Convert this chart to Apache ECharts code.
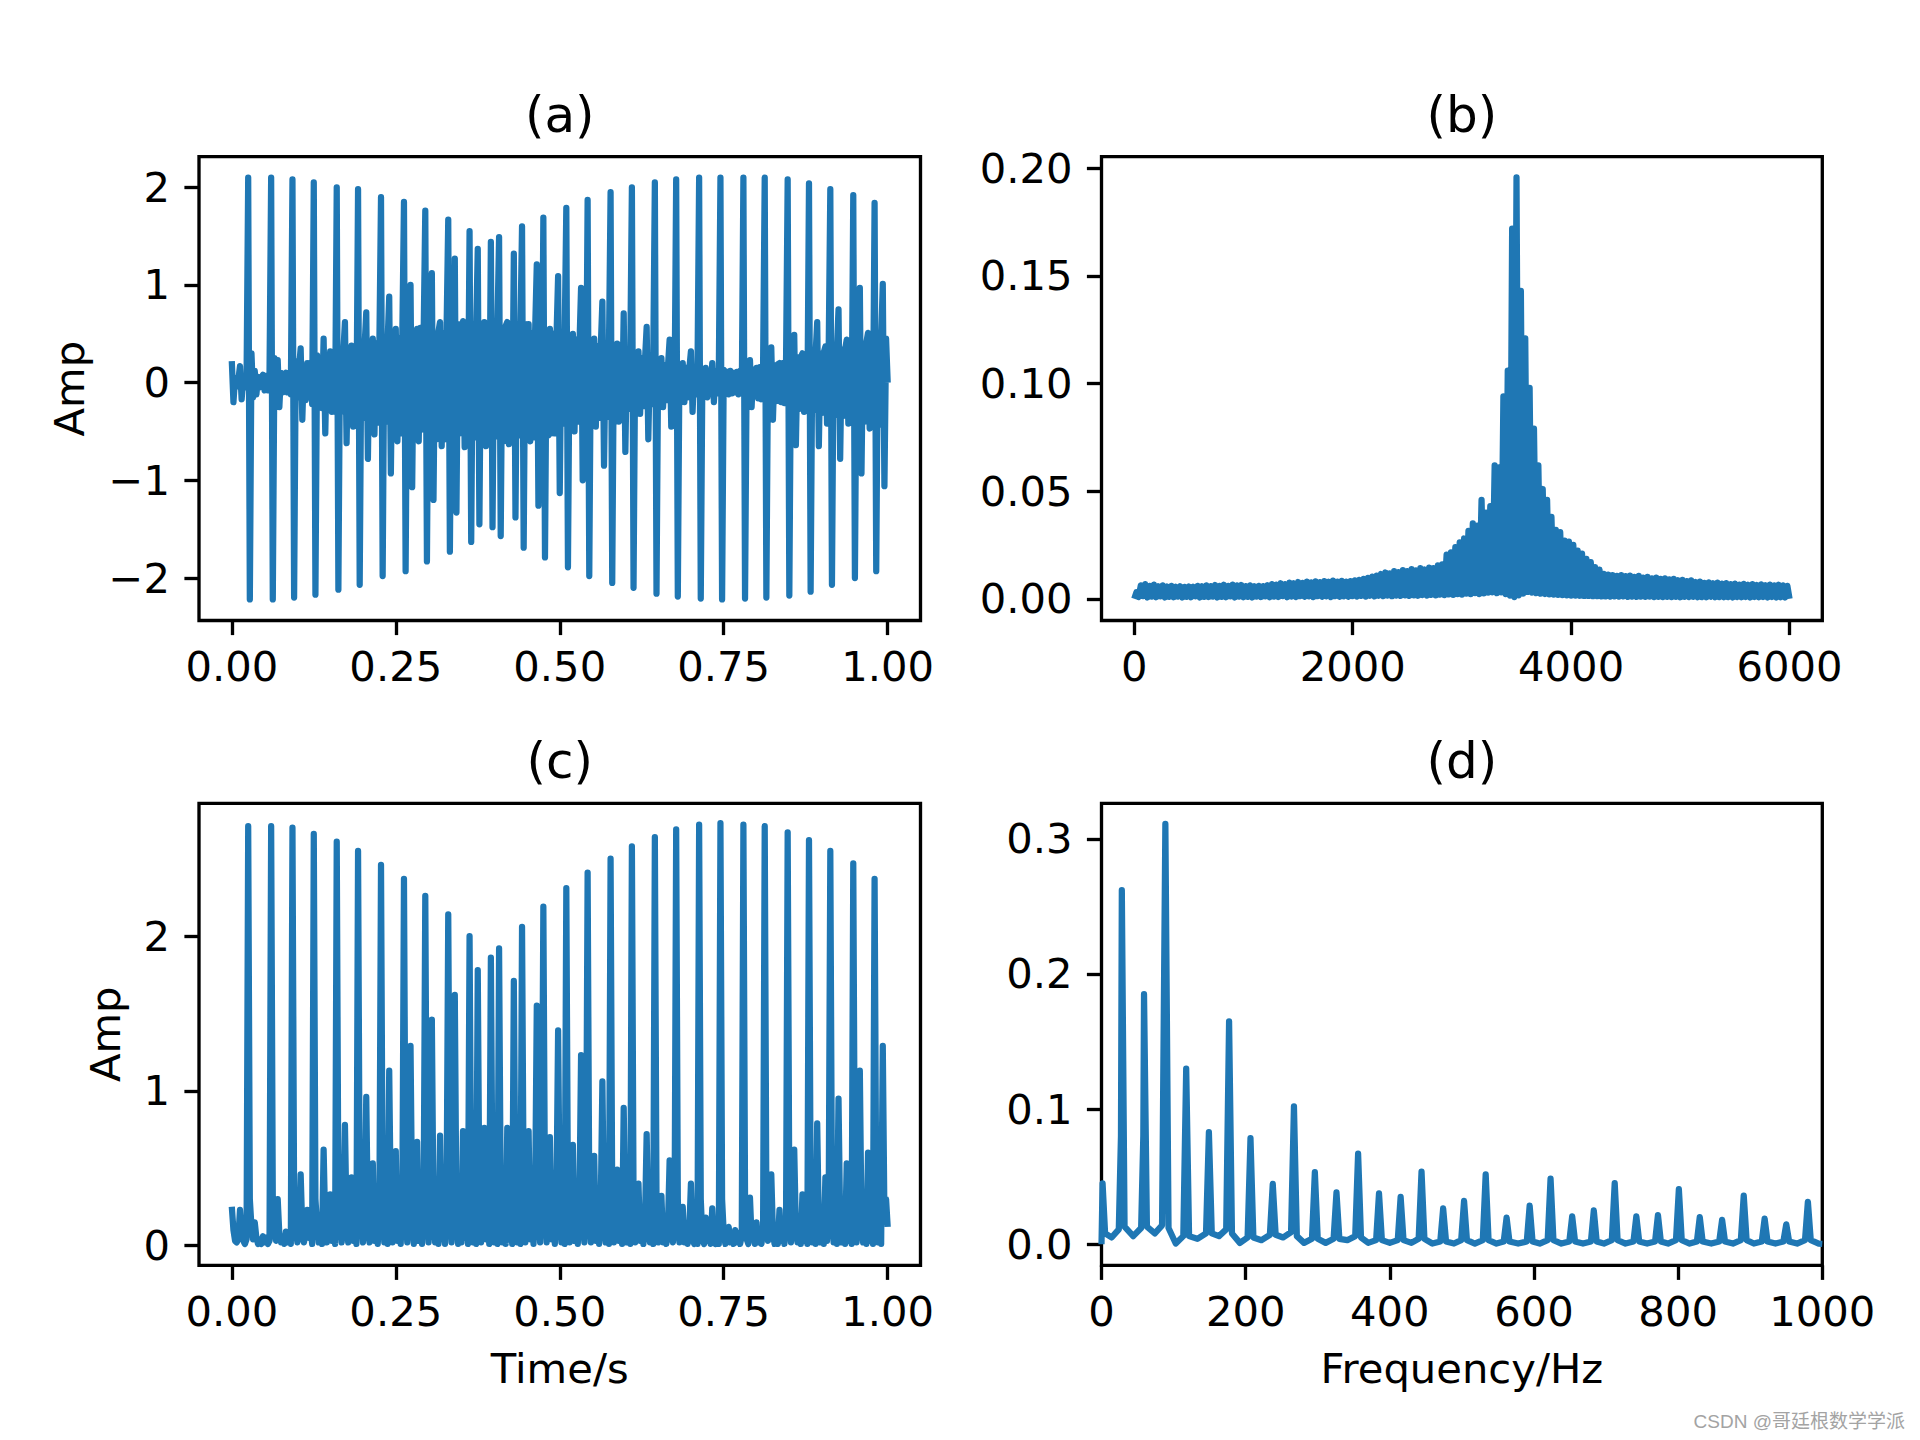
<!DOCTYPE html>
<html><head><meta charset="utf-8">
<script src="https://cdn.jsdelivr.net/npm/echarts@6/dist/echarts.min.js"></script>
<style>html,body{margin:0;padding:0;background:#fff}#c{width:1920px;height:1440px}</style>
</head><body><div id="c"></div>
<script>
// ---------- DATA ----------
// (a) time signal, sampled every timeStep seconds from t = 0 to 1
const timeStep = 0.0025;
const ampA = [
0.22,-0.2,0.05,-0.04,0.03,0.17,-0.17,0.05,-0.05,0.04,2.1,-2.22,0.3,-0.15,0.12,-0.12,0.06,-0.05,0.05,0.08,
-0.08,0.07,-0.08,0.09,2.1,-2.22,0.25,-0.12,0.23,-0.25,0.1,-0.1,0.08,0.1,-0.1,0.1,-0.12,2.08,-2.2,0.22,
-0.15,0.16,0.35,-0.38,0.17,-0.18,0.2,-0.15,0.2,-0.22,2.05,-2.17,0.28,-0.25,0.24,-0.26,0.45,-0.52,0.27,-0.28,
0.32,-0.3,0.29,-0.3,2.0,-2.12,0.33,-0.3,0.31,0.62,-0.62,0.32,-0.33,0.38,-0.45,0.33,-0.34,1.98,-2.07,0.35,
-0.36,0.38,0.72,-0.78,0.4,-0.38,0.45,-0.53,0.4,-0.41,0.39,1.9,-1.98,0.42,-0.4,0.41,0.88,-0.93,0.43,-0.42,
0.55,-0.6,0.45,-0.52,0.5,1.85,-1.93,0.44,-0.55,1.0,-1.07,0.53,-0.46,0.55,-0.6,0.56,-0.48,0.5,1.76,-1.83,
0.56,-0.5,1.12,-1.2,0.48,-0.58,0.52,0.62,-0.65,0.5,-0.58,0.57,1.67,-1.73,0.5,-0.57,1.27,-1.33,0.6,-0.52,
0.52,0.63,-0.66,0.58,-0.52,1.55,-1.63,0.6,-0.56,0.52,1.37,-1.45,0.58,-0.6,0.62,-0.65,0.55,-0.6,1.44,-1.48,
0.6,-0.55,0.58,1.49,-1.57,0.52,-0.6,0.58,0.62,-0.63,0.54,-0.58,1.32,-1.38,0.6,-0.54,0.52,1.6,-1.69,0.6,
-0.55,0.6,-0.6,0.5,-0.56,0.54,1.21,-1.26,0.56,-0.48,1.69,-1.79,0.52,-0.54,0.55,-0.52,0.5,-0.52,0.46,1.09,
-1.13,0.48,-0.42,0.46,1.79,-1.89,0.4,-0.46,0.5,-0.5,0.44,-0.4,0.38,0.97,-1.0,0.43,-0.42,1.87,-1.98,0.42,
-0.4,0.45,-0.45,0.37,-0.36,0.36,0.83,-0.85,0.35,-0.35,0.34,1.95,-2.05,0.34,-0.33,0.4,-0.4,0.32,-0.32,0.71,
-0.71,0.28,-0.27,0.27,2.0,-2.1,0.26,-0.25,0.32,-0.32,0.25,-0.24,0.24,0.57,-0.58,0.23,-0.22,0.22,2.05,-2.16,
0.2,-0.19,0.25,-0.25,0.18,-0.18,0.17,0.44,-0.45,0.17,-0.16,2.08,-2.19,0.18,-0.16,0.2,-0.2,0.15,-0.15,0.14,
0.32,-0.3,0.13,-0.12,0.12,2.1,-2.21,0.14,-0.12,0.15,-0.15,0.12,-0.11,0.2,-0.2,0.11,-0.11,0.11,2.1,-2.22,
0.13,-0.12,0.11,-0.12,0.12,-0.11,0.1,-0.1,0.11,-0.12,0.12,-0.11,2.1,-2.21,0.15,-0.12,0.23,-0.25,0.13,-0.13,
0.15,-0.16,0.16,-0.17,0.17,2.1,-2.2,0.18,-0.17,0.36,-0.38,0.18,-0.19,0.19,0.2,-0.2,0.2,-0.21,0.21,2.08,
-2.18,0.25,-0.24,0.49,-0.64,0.26,-0.27,0.26,0.3,-0.3,0.27,-0.28,2.04,-2.14,0.28,-0.28,0.29,0.62,-0.65,0.3,
-0.31,0.31,0.37,-0.42,0.32,1.98,-2.07,0.33,-0.33,0.33,0.75,-0.78,0.34,-0.34,0.34,0.44,-0.42,0.35,-0.35,1.92,
-2.0,0.38,-0.38,0.97,-0.93,0.4,-0.4,0.41,0.51,-0.47,0.42,-0.42,1.84,-1.93,0.43,-0.43,0.44,1.01,-1.06,0.45,0.0
];

// (c) time signal (non-negative), same sampling
const ampC = [
0.25,0.1,0.03,0.02,0.05,0.23,0.08,0.03,0.01,0.04,2.71,0.3,0.12,0.04,0.15,0.05,0.01,0.04,0.01,0.06,
0.02,0.05,0.01,0.03,2.71,0.3,0.1,0.03,0.3,0.07,0.02,0.06,0.01,0.09,0.02,0.06,0.01,2.7,0.3,0.1,
0.02,0.07,0.46,0.1,0.02,0.08,0.23,0.05,0.12,0.01,2.66,0.3,0.13,0.02,0.12,0.01,0.62,0.12,0.02,0.13,
0.33,0.03,0.14,0.01,2.61,0.3,0.14,0.02,0.15,0.78,0.15,0.02,0.16,0.44,0.03,0.17,0.01,2.55,0.3,0.16,
0.02,0.18,0.96,0.15,0.02,0.2,0.53,0.03,0.22,0.01,0.22,2.46,0.3,0.02,0.24,0.01,1.13,0.2,0.02,0.25,
0.61,0.03,0.26,0.01,0.27,2.37,0.3,0.02,0.28,1.29,0.2,0.01,0.29,0.67,0.03,0.3,0.01,0.3,2.26,0.3,
0.02,0.32,1.46,0.2,0.02,0.33,0.01,0.71,0.04,0.34,0.01,0.34,2.14,0.3,0.02,0.35,1.62,0.2,0.01,0.35,
0.02,0.74,0.05,0.36,0.01,2.0,0.3,0.02,0.36,0.01,1.78,0.25,0.02,0.36,0.76,0.04,0.36,0.01,1.86,0.28,
0.02,0.37,0.01,1.92,0.3,0.02,0.36,0.01,0.76,0.04,0.36,0.01,1.71,0.25,0.02,0.36,0.01,2.06,0.3,0.02,
0.35,0.74,0.04,0.35,0.01,0.35,1.55,0.22,0.02,0.34,2.19,0.3,0.02,0.34,0.7,0.04,0.33,0.01,0.33,1.39,
0.2,0.02,0.32,0.01,2.31,0.3,0.02,0.3,0.65,0.03,0.29,0.01,0.28,1.23,0.18,0.02,0.27,2.41,0.3,0.02,
0.26,0.58,0.03,0.26,0.01,0.25,1.06,0.15,0.02,0.24,0.01,2.5,0.3,0.02,0.23,0.49,0.03,0.22,0.01,0.89,
0.13,0.02,0.2,0.01,2.58,0.3,0.02,0.19,0.4,0.03,0.18,0.01,0.17,0.72,0.1,0.02,0.16,0.01,2.64,0.3,
0.02,0.15,0.32,0.02,0.14,0.01,0.13,0.55,0.08,0.02,0.12,2.69,0.3,0.02,0.11,0.25,0.02,0.1,0.01,0.1,
0.4,0.05,0.01,0.09,0.01,2.72,0.3,0.04,0.01,0.18,0.03,0.09,0.01,0.24,0.04,0.01,0.08,0.01,2.73,0.3,
0.08,0.01,0.07,0.12,0.02,0.08,0.01,0.1,0.02,0.08,0.01,0.06,2.72,0.3,0.04,0.01,0.31,0.05,0.09,0.01,
0.15,0.02,0.1,0.01,0.1,2.71,0.3,0.03,0.12,0.46,0.08,0.01,0.13,0.01,0.23,0.03,0.15,0.01,0.16,2.67,
0.3,0.02,0.18,0.62,0.1,0.02,0.19,0.01,0.33,0.03,0.2,0.01,2.62,0.3,0.02,0.21,0.01,0.79,0.12,0.02,
0.22,0.01,0.44,0.03,0.22,2.55,0.3,0.02,0.23,0.01,0.95,0.14,0.02,0.24,0.01,0.53,0.03,0.24,0.01,2.47,
0.3,0.02,0.25,1.13,0.16,0.02,0.25,0.01,0.6,0.03,0.26,0.01,2.37,0.3,0.02,0.27,0.01,1.29,0.18,0.3,0.12
];

// (b) spectrum of (a): comb of lines every specStepHz; odd samples are the line tops, even samples the gaps
const specStepHz = 20;
const specTops = [
0.003,0.0062,0.0068,0.006,0.0066,0.0058,0.0062,0.0057,0.006,0.0056,
0.0058,0.0055,0.0057,0.0056,0.006,0.0058,0.0062,0.0059,0.0064,0.006,
0.0065,0.006,0.0066,0.0062,0.0064,0.0059,0.0062,0.0058,0.006,0.0059,
0.0063,0.0068,0.0066,0.0072,0.0068,0.0075,0.0072,0.0078,0.0074,0.008,
0.0076,0.0081,0.0077,0.0082,0.0079,0.0084,0.008,0.0083,0.008,0.0082,
0.0085,0.0088,0.0092,0.0097,0.0103,0.0108,0.0115,0.0122,0.0118,0.0128,
0.0124,0.0133,0.0128,0.0138,0.0132,0.0142,0.0136,0.0145,0.0142,0.0155,
0.016,0.0205,0.0215,0.024,0.0262,0.028,0.0315,0.035,0.034,0.046,
0.04,0.043,0.062,0.061,0.094,0.106,0.172,0.1958,0.143,0.121,
0.098,0.079,0.062,0.051,0.046,0.038,0.032,0.031,0.027,0.0265,
0.025,0.0224,0.021,0.0185,0.017,0.0147,0.0135,0.0116,0.0112,0.011,
0.0106,0.011,0.0105,0.0108,0.0102,0.0106,0.0098,0.0102,0.0095,0.0098,
0.0092,0.0095,0.009,0.0092,0.0086,0.0088,0.0082,0.0085,0.0078,0.008,
0.0074,0.0076,0.0072,0.0075,0.007,0.0073,0.0068,0.007,0.0066,0.0069,
0.0065,0.0068,0.0064,0.0067,0.0063,0.0066,0.0062,0.0065,0.0062,0.006
];
const specGaps = [
0,0.0008,0.0012,0.0006,0.001,0.0007,0.0011,0.0006,0.0009,0.0007,
0.001,0.0006,0.0009,0.0007,0.0011,0.0006,0.0009,0.0008,0.001,0.0006,
0.0009,0.0007,0.0011,0.0006,0.001,0.0007,0.0009,0.0006,0.001,0.0008,
0.0011,0.0007,0.001,0.0008,0.0012,0.0007,0.001,0.0008,0.0012,0.0009,
0.0011,0.0008,0.0012,0.0009,0.0011,0.0008,0.0012,0.0009,0.0011,0.0009,
0.0012,0.001,0.0013,0.001,0.0014,0.0011,0.0014,0.0012,0.0015,0.0012,
0.0015,0.0013,0.0016,0.0013,0.0016,0.0014,0.0017,0.0015,0.0018,0.0016,
0.0019,0.0017,0.002,0.0018,0.0022,0.0019,0.0024,0.0021,0.0026,0.0022,
0.0025,0.0028,0.003,0.0026,0.003,0.0022,0.0015,0.0008,0.0016,0.0024,
0.0032,0.0029,0.0026,0.0024,0.0022,0.002,0.0019,0.0018,0.0017,0.0016,
0.0015,0.0015,0.0014,0.0013,0.0013,0.0012,0.0012,0.0011,0.0011,0.001,
0.0011,0.001,0.0011,0.0009,0.001,0.0009,0.001,0.0009,0.001,0.0008,
0.0009,0.0008,0.0009,0.0008,0.0009,0.0007,0.0009,0.0008,0.0009,0.0007,
0.0008,0.0007,0.0009,0.0007,0.0008,0.0007,0.0008,0.0006,0.0008,0.0007,
0.0008,0.0006,0.0008,0.0007,0.0008,0.0006,0.0008,0.0006,0.0007,0.0006,
0
];

// (d) spectrum of (c): frequency / amplitude pairs
const envFreq = [0,1.5,5,14, 24,27,28.2,32,44, 55,58,59,63,74, 84,88.6,93,103,
113.5,117.5,121.5,133, 145,149,153,163, 173,177,181,192, 202.7,206.7,210.7,222,
233.6,237.6,241.6,252, 263,267,271,281, 292,296,300,311, 322,326,330,341,
352,356,360,370, 381,385,389,400, 411,415,419,430, 440,444,448,459,
470,474,478,489, 499,503,507,518, 529,533,537,548, 558,562,566,578,
590,594,598,608, 619,623,627,638, 649,653,657,668, 679,683,687,697,
708,712,716,727, 738,742,746,757, 768,772,776,786, 797,801,805,816,
826,830,834,846, 857,861,865,876, 887,891,895,905, 916,920,924,935,
946,950,954,965, 976,980,984,995, 1000];
const envAmp = [0.0,0.045,0.008,0.005, 0.011,0.08,0.262,0.013,0.006, 0.012,0.08,0.185,0.013,0.008, 0.014,0.311,0.012,0.0005,
0.006,0.13,0.006,0.004, 0.008,0.083,0.008,0.006, 0.011,0.165,0.008,0.001, 0.005,0.0786,0.005,0.003,
0.007,0.0447,0.007,0.005, 0.009,0.102,0.006,0.001, 0.004,0.0533,0.004,0.001, 0.004,0.0383,0.004,0.003,
0.006,0.067,0.005,0.001, 0.003,0.0376,0.003,0.001, 0.003,0.035,0.003,0.001, 0.004,0.0538,0.004,0.0005,
0.002,0.0265,0.002,0.0005, 0.003,0.032,0.003,0.0005, 0.003,0.0516,0.003,0.0005, 0.002,0.0197,0.002,0.0005,
0.002,0.0285,0.002,0.0005, 0.003,0.0486,0.003,0.0005, 0.002,0.0206,0.002,0.0005, 0.002,0.025,0.002,0.0005,
0.003,0.0452,0.003,0.0005, 0.002,0.0206,0.002,0.0005, 0.002,0.0216,0.002,0.0005, 0.003,0.0408,0.003,0.0005,
0.002,0.02,0.002,0.0005, 0.002,0.018,0.002,0.0005, 0.003,0.036,0.003,0.0005, 0.002,0.019,0.002,0.0005,
0.002,0.0147,0.002,0.0005, 0.003,0.0314,0.003,0.0005, 0.0003];

// tick values
const timeTicks = [0, 0.25, 0.5, 0.75, 1.0];
const ampTicksA = [-2, -1, 0, 1, 2];
const freqTicksB = [0, 2000, 4000, 6000];
const specTicksB = [0, 0.05, 0.10, 0.15, 0.20];
const ampTicksC = [0, 1, 2];
const freqTicksD = [0, 200, 400, 600, 800, 1000];
const specTicksD = [0, 0.1, 0.2, 0.3];

const panelTitles = ['(a)', '(b)', '(c)', '(d)'];
const yName = 'Amp';
const xNameTime = 'Time/s';
const xNameFreq = 'Frequency/Hz';
const watermark = 'CSDN @哥廷根数学学派';

// ---------- build series tables ----------
const dataA = ampA.map((v, i) => [i * timeStep, v]);
const dataC = ampC.map((v, i) => [i * timeStep, v]);
const dataB = [];
for (let i = 0; i < specGaps.length; i++) {
  dataB.push([2 * i * specStepHz, specGaps[i]]);
  if (i < specTops.length) dataB.push([(2 * i + 1) * specStepHz, specTops[i]]);
}
const nD = Math.min(envFreq.length, envAmp.length);
const dataD = [];
for (let i = 0; i < nD; i++) dataD.push([envFreq[i], envAmp[i]]);

// ---------- chart ----------
const FONT = 'DejaVu Sans';
const BLUE = '#1f77b4';
const TICKFS = 41.7;
const LW = 6.25;
const chart = echarts.init(document.getElementById('c'), null, {renderer: 'svg', width: 1920, height: 1440});

const gridBase = {show: true, borderColor: '#000', borderWidth: 3.33, backgroundColor: 'rgba(0,0,0,0)', containLabel: false, outerBoundsMode: 'none'};
const grids = [
  Object.assign({left: 199, top: 156.7, width: 721.5, height: 463.8}, gridBase),
  Object.assign({left: 1101.5, top: 156.7, width: 720.8, height: 463.8}, gridBase),
  Object.assign({left: 199, top: 803.3, width: 721.5, height: 462}, gridBase),
  Object.assign({left: 1101.5, top: 803.3, width: 720.8, height: 462}, gridBase)
];
const minus = s => s.replace('-', '\u2212');
function axis(gi, min, max, ticks, fmt, margin) {
  return {
    type: 'value', gridIndex: gi, min: min, max: max, scale: true,
    axisLine: {show: false, onZero: false},
    splitLine: {show: false},
    axisTick: {show: true, inside: false, length: 14.6, lineStyle: {color: '#000', width: 3.33}, customValues: ticks},
    axisLabel: {show: true, customValues: ticks, formatter: v => fmt(v), margin: margin,
      fontSize: TICKFS, fontFamily: FONT, color: '#000'}
  };
}
const xAxes = [
  axis(0, -0.05, 1.05, timeTicks, v => v.toFixed(2), 25),
  axis(1, -300, 6300, freqTicksB, v => String(Math.round(v)), 25),
  axis(2, -0.05, 1.05, timeTicks, v => v.toFixed(2), 25),
  axis(3, 0, 1000, freqTicksD, v => String(Math.round(v)), 25)
];
const yAxes = [
  axis(0, -2.435, 2.313, ampTicksA, v => minus(String(Math.round(v))), 29),
  axis(1, -0.0101, 0.2054, specTicksB, v => v.toFixed(2), 29),
  axis(2, -0.128, 2.858, ampTicksC, v => String(Math.round(v)), 29),
  axis(3, -0.0156, 0.3263, specTicksD, v => v.toFixed(1), 29)
];
function lineSeries(i, data) {
  return {type: 'line', xAxisIndex: i, yAxisIndex: i, data: data, showSymbol: false, symbol: 'none',
    silent: true, animation: false, clip: true, smooth: false,
    lineStyle: {color: BLUE, width: LW, join: 'round', cap: 'butt'}};
}
function txt(text, x, y, size, extra) {
  return Object.assign({type: 'text', x: x, y: y, silent: true,
    style: {text: text, fontSize: size, fontFamily: FONT, fill: '#000', align: 'center', verticalAlign: 'middle'}}, extra || {});
}
const graphics = [
  txt(panelTitles[0], 559.75, 114.5, 50),
  txt(panelTitles[1], 1461.9, 114.5, 50),
  txt(panelTitles[2], 559.75, 761, 50),
  txt(panelTitles[3], 1461.9, 761, 50),
  txt(yName, 69.8, 388.6, TICKFS, {rotation: Math.PI / 2}),
  txt(yName, 105.3, 1034.3, TICKFS, {rotation: Math.PI / 2}),
  txt(xNameTime, 559.75, 1368, TICKFS),
  txt(xNameFreq, 1461.9, 1368, TICKFS),
  {type: 'text', x: 1905, y: 1421, silent: true,
    style: {text: watermark, fontSize: 19, fontFamily: 'Liberation Sans, Noto Sans CJK SC, sans-serif',
      fill: '#a3a3a3', align: 'right', verticalAlign: 'middle'}}
];

chart.setOption({
  animation: false,
  backgroundColor: '#ffffff',
  grid: grids,
  xAxis: xAxes,
  yAxis: yAxes,
  series: [lineSeries(0, dataA), lineSeries(1, dataB), lineSeries(2, dataC), lineSeries(3, dataD)],
  graphic: graphics
});
</script>
</body></html>
